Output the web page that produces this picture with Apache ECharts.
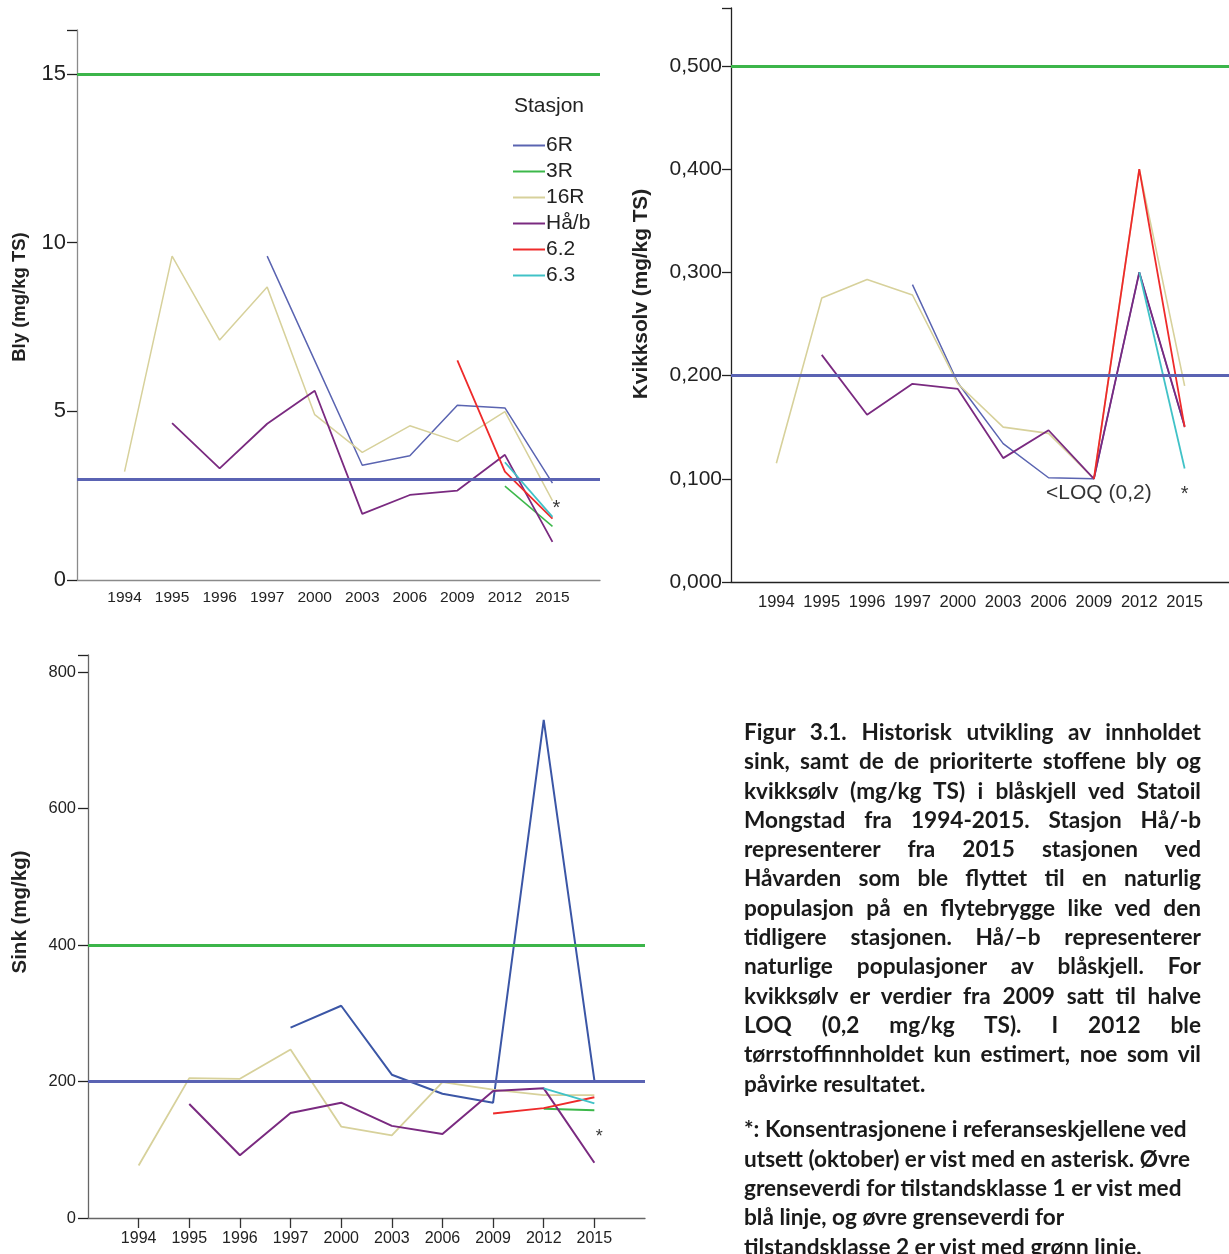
<!DOCTYPE html>
<html>
<head>
<meta charset="utf-8">
<script src="https://cdn.jsdelivr.net/npm/echarts@6/dist/echarts.min.js"></script>
<style>
html,body{margin:0;padding:0;background:#fff;width:1229px;height:1254px;overflow:hidden;}
#chart{position:absolute;left:0;top:0;width:1229px;height:1254px;}
#caption{position:absolute;left:744px;top:717px;width:457px;font-family:Lato,"Open Sans",sans-serif;font-weight:bold;font-size:22.6px;line-height:29.3px;color:#1a1a1a;}
#caption .j{text-align:justify;text-align-last:justify;white-space:nowrap;}
#caption .l{text-align:left;white-space:nowrap;}
#caption .gap{height:16.5px;}
</style>
</head>
<body>
<div id="chart"></div>
<div id="caption">
<div class="j">Figur 3.1. Historisk utvikling av innholdet</div>
<div class="j">sink, samt de de prioriterte stoffene bly og</div>
<div class="j">kvikksølv (mg/kg TS) i blåskjell ved Statoil</div>
<div class="j">Mongstad fra 1994-2015. Stasjon Hå/-b</div>
<div class="j">representerer fra 2015 stasjonen ved</div>
<div class="j">Håvarden som ble flyttet til en naturlig</div>
<div class="j">populasjon på en flytebrygge like ved den</div>
<div class="j">tidligere stasjonen. Hå/–b representerer</div>
<div class="j">naturlige populasjoner av blåskjell. For</div>
<div class="j">kvikksølv er verdier fra 2009 satt til halve</div>
<div class="j">LOQ (0,2 mg/kg TS). I 2012 ble</div>
<div class="j">tørrstoffinnholdet kun estimert, noe som vil</div>
<div class="l">påvirke resultatet.</div>
<div class="gap"></div>
<div class="l">*: Konsentrasjonene i referanseskjellene ved</div>
<div class="l">utsett (oktober) er vist med en asterisk. Øvre</div>
<div class="l">grenseverdi for tilstandsklasse 1 er vist med</div>
<div class="l">blå linje, og øvre grenseverdi for</div>
<div class="l">tilstandsklasse 2 er vist med grønn linje.</div>
</div>
<script>
// ---------- data ----------
const years = ['1994','1995','1996','1997','2000','2003','2006','2009','2012','2015'];
const stations = ['6R','3R','16R','Hå/b','6.2','6.3'];

// Bly (mg/kg TS)
const bly6R  = [null,null,null,9.6,6.5,3.4,3.68,5.18,5.1,2.87];
const bly3R  = [null,null,null,null,null,null,null,null,2.78,1.59];
const bly16R = [3.21,9.6,7.11,8.68,4.9,3.78,4.57,4.1,4.99,2.35];
const blyHab = [null,4.65,3.31,4.63,5.61,1.96,2.52,2.65,3.71,1.13];
const bly62  = [null,null,null,null,null,null,null,6.51,3.21,1.82];
const bly63  = [null,null,null,null,null,null,null,null,3.49,1.87];
const blyLimits = [3, 15];
const blyTicks = [0,5,10,15];

// Kvikksølv (mg/kg TS)
const kv6R  = [null,null,null,0.288,0.193,0.134,0.101,0.1,0.3,0.15];
const kv16R = [0.115,0.275,0.293,0.278,0.192,0.15,0.144,0.1,0.4,0.19];
const kvHab = [null,0.22,0.162,0.192,0.187,0.12,0.147,0.1,0.3,0.151];
const kv62  = [null,null,null,null,null,null,null,0.1,0.4,0.15];
const kv63  = [null,null,null,null,null,null,null,null,0.3,0.11];
const kvLimits = [0.2, 0.5];
const kvTicks = ['0,000','0,100','0,200','0,300','0,400','0,500'];

// Sink (mg/kg)
const s6R  = [null,null,null,279,311,210,182,169,730,202];
const s3R  = [null,null,null,null,null,null,null,null,160,158];
const s16R = [77,205,204,247,134,121,199,188,180,180];
const sHab = [null,167,92,154,169,135,123,186,190,81];
const s62  = [null,null,null,null,null,null,null,153,161,177];
const s63  = [null,null,null,null,null,null,null,null,190,168];
const sinkLimits = [200, 400];
const sinkTicks = [0,200,400,600,800];

// annotations
const blyStar = ['2015', 2.19];
const kvStar = ['2015', 0.087];
const kvLoq = ['2009', 0.087];
const sinkStar = ['2015', 119];

// ---------- styling ----------
const FONT = 'Liberation Sans, Arial, Helvetica, sans-serif';
const COL = {'6R':'#5a64b1','3R':'#3cb84a','16R':'#d7d19b','Hå/b':'#7a2a80','6.2':'#ee2b2b','6.3':'#40c2c7'};
const REF_BLUE = '#5a63b3', REF_GREEN = '#3cb54a';
const cats = [''].concat(years, [' ']);
const pad = a => ['-'].concat(a.map(v => v == null ? '-' : v), ['-']);
const blank = () => cats.map(() => '-');

function ln(name, data, g, width, color) {
  return {type:'line', name, xAxisIndex:g, yAxisIndex:g, data:pad(data), symbol:'none',
    lineStyle:{color: color || COL[name], width: width}, itemStyle:{color: color || COL[name]},
    silent:true, animation:false, z:2};
}
function refs(g, lo, hi) {
  return {type:'line', xAxisIndex:g, yAxisIndex:g, data:blank(), symbol:'none', silent:true, animation:false, z:5,
    markLine:{silent:true, symbol:['none','none'], label:{show:false}, animation:false,
      data:[{yAxis:lo, lineStyle:{color:REF_BLUE, width:3.2, type:'solid'}},
            {yAxis:hi, lineStyle:{color:REF_GREEN, width:3.2, type:'solid'}}]}};
}
function note(g, pt, text, size, off) {
  return {type:'scatter', xAxisIndex:g, yAxisIndex:g, data:[pt], symbolSize:0, silent:true, animation:false, z:6,
    label:{show:true, position:'inside', formatter:text, color:'#000', fontFamily:FONT, fontSize:size, offset:off}};
}
const catTickShow = (i, v) => v.trim() !== '';
function xAx(g, color, size, margin, ticks) {
  return {type:'category', gridIndex:g, data:cats, boundaryGap:false,
    axisLine:{lineStyle:{color:color, width:1.3}},
    axisTick:{show:ticks, interval:catTickShow, length:10, lineStyle:{color:'#333', width:1.3}},
    axisLabel:{interval:0, fontFamily:FONT, fontSize:size, color:'#222', margin:margin},
    splitLine:{show:false}};
}

const option = {
  animation:false,
  backgroundColor:'#fff',
  textStyle:{fontFamily:FONT},
  grid:[
    {left:77, top:30, width:523, height:550, containLabel:false, outerBoundsMode:'none'},
    {left:731, top:8, width:499, height:574, containLabel:false, outerBoundsMode:'none'},
    {left:88, top:655, width:557, height:563, containLabel:false, outerBoundsMode:'none'}
  ],
  xAxis:[ xAx(0,'#8a8a8a',15.5,10,false), xAx(1,'#222',16.5,12,false), xAx(2,'#666',16,13,true) ],
  yAxis:[
    {type:'value', gridIndex:0, min:0, max:16.3, interval:5,
     axisLine:{show:true, lineStyle:{color:'#8a8a8a', width:1.3}},
     axisTick:{show:true, length:10, lineStyle:{color:'#222', width:1.3}},
     axisLabel:{fontFamily:FONT, fontSize:22, color:'#222', margin:11,
       formatter:v => blyTicks.includes(v) ? String(v) : ''},
     splitLine:{show:false}},
    {type:'value', gridIndex:1, min:0, max:0.556, interval:0.1,
     axisLine:{show:true, lineStyle:{color:'#222', width:1.3}},
     axisTick:{show:true, length:9, lineStyle:{color:'#222', width:1.3}},
     axisLabel:{fontFamily:FONT, fontSize:21, color:'#222', margin:9,
       formatter:v => kvTicks[Math.round(v*10)] || ''},
     splitLine:{show:false}},
    {type:'value', gridIndex:2, min:0, max:825, interval:200,
     axisLine:{show:true, lineStyle:{color:'#666', width:1.3}},
     axisTick:{show:true, length:10, lineStyle:{color:'#222', width:1.3}},
     axisLabel:{fontFamily:FONT, fontSize:16.5, color:'#222', margin:12,
       formatter:v => sinkTicks.includes(v) ? String(v) : ''},
     splitLine:{show:false}}
  ],
  legend:{data:stations, orient:'vertical', left:508, top:130, icon:'rect', itemWidth:32, itemHeight:2,
    itemGap:5, selectedMode:false, textStyle:{fontFamily:FONT, fontSize:21, color:'#222', padding:[0,0,0,-4]}},
  graphic:[
    {type:'text', left:514, top:96, style:{text:'Stasjon', font:'21px ' + FONT, fill:'#222'}},
    {type:'text', x:20, y:297, rotation:Math.PI/2, style:{text:'Bly (mg/kg TS)', font:'bold 18.5px ' + FONT, fill:'#222', align:'center', verticalAlign:'middle'}},
    {type:'text', x:641, y:294, rotation:Math.PI/2, style:{text:'Kvikksolv (mg/kg TS)', font:'bold 20.8px ' + FONT, fill:'#222', align:'center', verticalAlign:'middle'}},
    {type:'text', x:20, y:912, rotation:Math.PI/2, style:{text:'Sink (mg/kg)', font:'bold 20.5px ' + FONT, fill:'#222', align:'center', verticalAlign:'middle'}}
  ],
  series:[
    ln('6R', bly6R, 0, 1.5), ln('3R', bly3R, 0, 1.5), ln('16R', bly16R, 0, 1.5),
    ln('Hå/b', blyHab, 0, 1.8), ln('6.2', bly62, 0, 1.8), ln('6.3', bly63, 0, 1.8),
    refs(0, blyLimits[0], blyLimits[1]),
    note(0, blyStar, '*', 20, [4,2]),

    ln('6R', kv6R, 1, 1.5), ln('16R', kv16R, 1, 1.6),
    ln('Hå/b', kvHab, 1, 1.8), ln('6.2', kv62, 1, 1.8), ln('6.3', kv63, 1, 1.8),
    refs(1, kvLimits[0], kvLimits[1]),
    note(1, kvStar, '*', 20, [0,2]),
    note(1, kvLoq, '<LOQ (0,2)', 21, [5,1]),

    ln('6R', s6R, 2, 2, '#3b56a6'), ln('3R', s3R, 2, 2), ln('16R', s16R, 2, 1.8),
    ln('Hå/b', sHab, 2, 2), ln('6.2', s62, 2, 2), ln('6.3', s63, 2, 2),
    refs(2, sinkLimits[0], sinkLimits[1]),
    note(2, sinkStar, '*', 18, [5,0])
  ]
};
const chart = echarts.init(document.getElementById('chart'), null, {renderer:'canvas'});
chart.setOption(option);
</script>
</body>
</html>
